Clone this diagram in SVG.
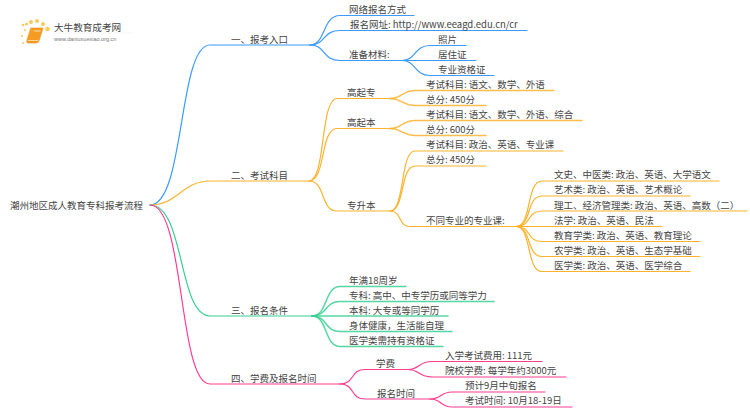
<svg xmlns="http://www.w3.org/2000/svg" width="750" height="410" viewBox="0 0 750 410">
<style>
text{font-family:"Noto Sans CJK SC","Liberation Sans",sans-serif;font-size:9.5px;fill:#444}
path{fill:none;stroke-width:1.2;stroke-linecap:round}
.b{stroke:#3d9bff}.o{stroke:#fdb32e}.g{stroke:#38cf93}.p{stroke:#ff3d91}
.s{stroke-width:1.5;stroke-opacity:.85}
</style>
<rect width="750" height="410" fill="#fff"/>
<g id="logo">
<g fill="#fbc95a"><circle cx="23" cy="25" r="1.300"/><circle cx="25" cy="30" r="1"/><circle cx="26.500" cy="24" r="1.500"/><circle cx="31" cy="22" r="2"/><circle cx="37" cy="21" r="2"/><circle cx="43" cy="24" r="2"/><circle cx="47.500" cy="29" r="2.300"/><circle cx="22" cy="36" r="1"/><circle cx="23" cy="43" r="1"/></g>
<path d="M31 28H43L39 41Q38.500 43 36 43H28Q26 43 27 40Z" style="fill:#f59a23;stroke:#f08c10;stroke-width:.6"/>
<path d="M28 40.500H38" style="stroke:#fde0b0;stroke-width:.9"/>
<path d="M34 31H40" style="stroke:#ffe2b0"/>
<path d="M54 33H133" style="stroke:#eee;stroke-width:.6"/>
<text x="54" y="30.500" style="font-size:9.600px">大牛教育成考网</text>
<text x="54" y="41" style="font-size:5.500px;fill:#777;font-family:'Liberation Sans',sans-serif">www.daniuxuexiao.org.cn</text>
</g>
<g id="connectors">
<path class="b" d="M150 205C185 205 178 45 210 45H310"/>
<path class="o" d="M150 205C178 205 182 181 210 181H310"/>
<path class="g" d="M150 205C185 205 178 316 210 316H312"/>
<path class="p" d="M150 205C185 205 178 384 210 384H340"/>
<path class="b" d="M310 45C326 45 322 15.500 340 15.500H414"/>
<path class="b" d="M310 45C326 45 322 30.500 340 30.500H527"/>
<path class="b" d="M310 45C326 45 322 60.500 340 60.500H402"/>
<path class="b" d="M402 60.500C416 60.500 414 45.500 430 45.500H466"/>
<path class="b" d="M402 60.500H476"/>
<path class="b" d="M402 60.500C416 60.500 414 75.500 430 75.500H494"/>
<path class="o" d="M309 181C326 181 320 98.500 337 98.500H390"/>
<path class="o" d="M309 181C326 181 320 128.500 337 128.500H390"/>
<path class="o" d="M309 181C326 181 320 211 337 211H390"/>
<path class="o s" d="M390 98.500C402 98.500 402 90.500 415 90.500H554"/>
<path class="o s" d="M390 98.500C402 98.500 402 105.500 415 105.500H486"/>
<path class="o s" d="M390 128.500C402 128.500 402 120.500 415 120.500H582"/>
<path class="o s" d="M390 128.500C402 128.500 402 135.500 415 135.500H486"/>
<path class="o" d="M390 211C405 211 400 151 415 151H563"/>
<path class="o" d="M390 211C405 211 400 166 415 166H486"/>
<path class="o" d="M390 211C402 211 398 226.500 410 226.500H516"/>
<path class="o" d="M516 226.500C532 226.500 526 181 542 181H719"/>
<path class="o" d="M516 226.500C532 226.500 526 196 542 196H690"/>
<path class="o" d="M516 226.500C532 226.500 526 211 542 211H747"/>
<path class="o" d="M516 226.500H662"/>
<path class="o" d="M516 226.500C532 226.500 526 241.500 542 241.500H700"/>
<path class="o" d="M516 226.500C532 226.500 526 256.500 542 256.500H700"/>
<path class="o" d="M516 226.500C532 226.500 526 271.500 542 271.500H690"/>
<path class="g s" d="M312 316C328 316 324 286.500 340 286.500H406"/>
<path class="g s" d="M312 316C328 316 324 301.500 340 301.500H494"/>
<path class="g s" d="M312 316H448"/>
<path class="g s" d="M312 316C328 316 324 331.500 340 331.500H452"/>
<path class="g s" d="M312 316C328 316 324 346.500 340 346.500H443"/>
<path class="p" d="M340 384C355 384 350 369.500 365 369.500H408"/>
<path class="p" d="M340 384C355 384 350 399 365 399H430"/>
<path class="p" d="M408 369.500C420 369.500 418 361.500 432 361.500H542"/>
<path class="p" d="M408 369.500C420 369.500 418 377 432 377H566"/>
<path class="p" d="M430 399C442 399 440 392 452 392H545"/>
<path class="p" d="M430 399C442 399 440 407 452 407H572"/>
</g>
<g id="root"><text x="10" y="208.500">潮州地区成人教育专科报考流程</text></g>
<g id="b1"><text x="231" y="43">一、报考入口</text></g>
<g id="b1-1"><text x="349" y="13">网络报名方式</text></g>
<g id="b1-2"><text x="350" y="28">报名网址: http://www.eeagd.edu.cn/cr</text></g>
<g id="b1-3"><text x="349" y="58">准备材料:</text></g>
<g id="b1-3-1"><text x="438" y="43">照片</text></g>
<g id="b1-3-2"><text x="438" y="58">居住证</text></g>
<g id="b1-3-3"><text x="438" y="73">专业资格证</text></g>
<g id="b2"><text x="231" y="178.500">二、考试科目</text></g>
<g id="b2-1"><text x="347" y="96">高起专</text></g>
<g id="b2-1-1"><text x="426" y="88">考试科目: 语文、数学、外语</text></g>
<g id="b2-1-2"><text x="426" y="103">总分: 450分</text></g>
<g id="b2-2"><text x="347" y="126">高起本</text></g>
<g id="b2-2-1"><text x="426" y="118">考试科目: 语文、数学、外语、综合</text></g>
<g id="b2-2-2"><text x="426" y="133">总分: 600分</text></g>
<g id="b2-3"><text x="347" y="208.500">专升本</text></g>
<g id="b2-3-1"><text x="426" y="148">考试科目: 政治、英语、专业课</text></g>
<g id="b2-3-2"><text x="426" y="163">总分: 450分</text></g>
<g id="b2-3-3"><text x="426" y="224">不同专业的专业课:</text></g>
<g id="c1"><text x="554" y="178">文史、中医类: 政治、英语、大学语文</text></g>
<g id="c2"><text x="554" y="193">艺术类: 政治、英语、艺术概论</text></g>
<g id="c3"><text x="554" y="208.500">理工、经济管理类: 政治、英语、高数（二）</text></g>
<g id="c4"><text x="554" y="224">法学: 政治、英语、民法</text></g>
<g id="c5"><text x="554" y="239">教育学类: 政治、英语、教育理论</text></g>
<g id="c6"><text x="554" y="254">农学类: 政治、英语、生态学基础</text></g>
<g id="c7"><text x="554" y="269">医学类: 政治、英语、医学综合</text></g>
<g id="b3"><text x="231" y="314">三、报名条件</text></g>
<g id="b3-1"><text x="349" y="284">年满18周岁</text></g>
<g id="b3-2"><text x="349" y="299">专科: 高中、中专学历或同等学力</text></g>
<g id="b3-3"><text x="349" y="314">本科: 大专或等同学历</text></g>
<g id="b3-4"><text x="349" y="329">身体健康，生活能自理</text></g>
<g id="b3-5"><text x="349" y="344">医学类需持有资格证</text></g>
<g id="b4"><text x="231" y="382">四、学费及报名时间</text></g>
<g id="b4-1"><text x="376" y="367">学费</text></g>
<g id="b4-1-1"><text x="445" y="359">入学考试费用: 111元</text></g>
<g id="b4-1-2"><text x="445" y="374">院校学费: 每学年约3000元</text></g>
<g id="b4-2"><text x="377" y="397">报名时间</text></g>
<g id="b4-2-1"><text x="465" y="389">预计9月中旬报名</text></g>
<g id="b4-2-2"><text x="465" y="404">考试时间: 10月18-19日</text></g>
</svg>
